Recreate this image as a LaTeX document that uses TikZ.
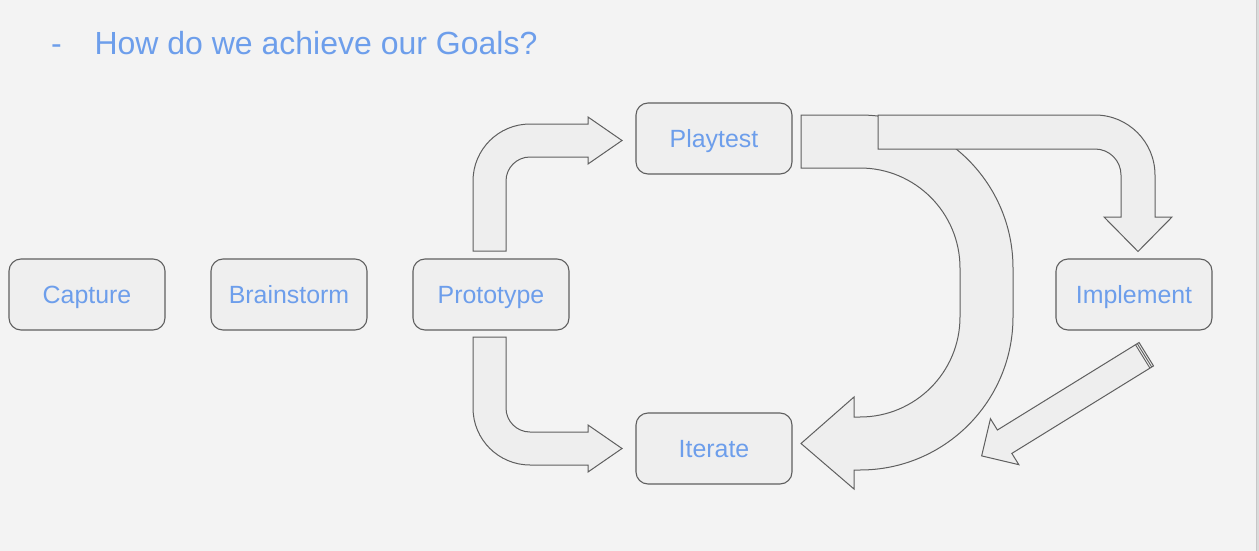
\documentclass[tikz,border=0pt]{standalone}
\usepackage{fontspec}
\setmainfont{Liberation Sans}
\definecolor{bg}{HTML}{F3F3F3}
\definecolor{boxfill}{HTML}{EFEFEF}
\definecolor{arrfill}{HTML}{EEEEEE}
\definecolor{edge}{HTML}{5F5F5F}
\definecolor{txt}{HTML}{6D9EEB}
\definecolor{strip}{HTML}{DADADA}
\definecolor{stripline}{HTML}{C6C6C6}
\begin{document}
\begin{tikzpicture}[x=1pt,y=-1pt,
  box/.style={draw=edge, fill=boxfill, line width=1.1pt, rounded corners=12pt,
    minimum width=156pt, minimum height=71pt, inner sep=0pt,
    text height=17.6pt, text depth=0pt,
    font=\fontsize{24.9}{29}\selectfont, text=txt},
  blockarrow/.style={draw=edge, fill=arrfill, line width=1pt, line join=miter},
  titletext/.style={anchor=base west, inner sep=0pt, text=txt,
    font=\fontsize{32}{38}\selectfont}]
\useasboundingbox (0,0) rectangle (1259,551);
\fill[bg] (0,0) rectangle (1259,551);
\fill[strip] (1256,0) rectangle (1259,551);
\draw[stripline, line width=0.8pt] (1256,0) -- (1256,551);

% title
\node[titletext] (dash) at (51,55) {-};
\node[titletext] (title) at (94.3,55) {How do we achieve our Goals?};

% boxes
\node[box] (cap) at (87,294.5) {Capture};
\node[box] (brain) at (289,294.5) {Brainstorm};
\node[box] (proto) at (491,294.5) {Prototype};
\node[box] (play) at (714,138.5) {Playtest};
\node[box] (iter) at (714,448.5) {Iterate};
\node[box] (impl) at (1134,294.5) {Implement};

% Prototype -> Playtest
\draw[blockarrow] (473,251) -- (473,181) arc[start angle=180, end angle=270, radius=57]
  -- (588,124) -- (588,117) -- (622,140.5) -- (588,164) -- (588,157) -- (530,157)
  arc[start angle=270, end angle=180, radius=24] -- (506,251) -- cycle;

% Prototype -> Iterate
\draw[blockarrow] (473,337) -- (473,408) arc[start angle=180, end angle=90, radius=57]
  -- (588,465) -- (588,472) -- (622,448.5) -- (588,425) -- (588,432) -- (530,432)
  arc[start angle=90, end angle=180, radius=24] -- (506,337) -- cycle;

% Playtest -> Iterate (big U arrow)
\draw[blockarrow] (801,115) -- (860,115) arc[start angle=-90, end angle=0, radius=153]
  -- (1013,317) arc[start angle=0, end angle=90, radius=153]
  -- (854,470) -- (854,489) -- (801,443.5) -- (854,397) -- (854,417) -- (860,417)
  arc[start angle=90, end angle=0, radius=100]
  -- (960,268) arc[start angle=0, end angle=-90, radius=100]
  -- (801,168) -- cycle;

% Playtest -> Implement
\draw[blockarrow] (878,115) -- (1095,115) arc[start angle=-90, end angle=0, radius=60]
  -- (1155,217) -- (1172,217) -- (1138,251.5) -- (1104,217) -- (1121,217)
  -- (1121,175) arc[start angle=0, end angle=-90, radius=26]
  -- (878,149) -- cycle;

% Implement -> Iterate (straight striped arrow)
\begin{scope}[shift={(1145,355)}, rotate=211.7]
\draw[blockarrow] (-1.5,-13.75) -- (165,-13.75) -- (165,-27) -- (192,0) -- (165,27)
  -- (165,13.75) -- (-1.5,13.75) -- cycle;
\draw[edge, line width=0.9pt] (0.6,-13.75) -- (0.6,13.75);
\draw[edge, line width=0.9pt] (2.7,-13.75) -- (2.7,13.75);
\end{scope}
\end{tikzpicture}
\end{document}
